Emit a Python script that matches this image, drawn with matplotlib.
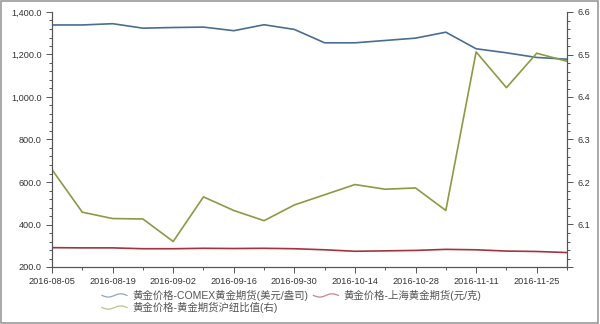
import numpy as np
import pandas as pd
import matplotlib
matplotlib.use("Agg")
import matplotlib.pyplot as plt
import matplotlib.dates as mdates
from matplotlib.ticker import FuncFormatter, MultipleLocator, AutoMinorLocator
from matplotlib.legend_handler import HandlerBase
from matplotlib.lines import Line2D

plt.rcParams['font.family'] = ['Liberation Sans', 'Noto Sans CJK SC', 'DejaVu Sans']

dates = pd.date_range("2016-08-05", "2016-12-02", freq="7D")
comex = [1339, 1339, 1345, 1324, 1327, 1329, 1312, 1340, 1318, 1255,
         1255, 1266, 1277, 1305, 1227, 1208, 1186, 1178]
shanghai = [291, 290, 290, 286, 286, 288, 287, 288, 286, 281,
            274, 276, 278, 283, 281, 275, 273, 268]
ratio = [6.229, 6.129, 6.114, 6.113, 6.060, 6.165, 6.133, 6.109, 6.146, 6.170,
         6.194, 6.183, 6.186, 6.133, 6.506, 6.422, 6.503, 6.484]
xticks = pd.date_range("2016-08-05", "2016-11-25", freq="14D")

names = ["黄金价格-COMEX黄金期货(美元/盎司)", "黄金价格-上海黄金期货(元/克)",
         "黄金价格-黄金期货沪纽比值(右)"]
c_blue, c_red, c_green = "#4a6d92", "#a3343f", "#8b9a44"


class WaveHandler(HandlerBase):
    def create_artists(self, legend, orig, xd, yd, w, h, fontsize, trans):
        t = np.linspace(0, 1, 30)
        xs = xd + t * w
        ys = yd + h / 2 - np.sin(t * 2 * np.pi) * h * 0.22
        ln = Line2D(xs, ys, color=orig.get_color(), lw=0.9, alpha=0.6, transform=trans)
        return [ln]


fig = plt.figure(figsize=(6, 3.24), dpi=100)
ax = fig.add_axes([52 / 600, 1 - 267 / 324, 515 / 600, 255 / 324])
ax2 = ax.twinx()

l1, = ax.plot(dates, comex, color=c_blue, lw=1.2)
l2, = ax.plot(dates, shanghai, color=c_red, lw=1.2)
l3, = ax2.plot(dates, ratio, color=c_green, lw=1.2)

ax.set_ylim(200, 1400)
ax2.set_ylim(6.0, 6.6)
ax.set_xlim(dates[0], dates[-1])

ax.yaxis.set_major_locator(MultipleLocator(200))
ax.yaxis.set_minor_locator(AutoMinorLocator(5))
ax.yaxis.set_major_formatter(FuncFormatter(lambda v, p: f"{v:,.1f}"))
ax2.yaxis.set_major_locator(MultipleLocator(0.1))
ax2.yaxis.set_minor_locator(AutoMinorLocator(5))
ax2.yaxis.set_major_formatter(FuncFormatter(lambda v, p: "" if v < 6.05 else f"{v:.1f}"))

ax.set_xticks(xticks)
ax.set_xticks(dates, minor=True)
ax.xaxis.set_major_formatter(mdates.DateFormatter("%Y-%m-%d"))

for a in (ax, ax2):
    for s in a.spines.values():
        s.set_color("#555555")
        s.set_linewidth(0.8)
    a.spines['top'].set_visible(False)
    a.tick_params(which='both', colors="#555555", labelcolor="#333333", labelsize=6.6, width=0.7)
    a.tick_params(which='major', length=4)
    a.tick_params(which='minor', length=2)

# column-major fill: col1 = COMEX, ratio ; col2 = Shanghai
fig.legend([l1, l3, l2], [names[0], names[2], names[1]], ncol=2,
           loc="upper left", bbox_to_anchor=(102 / 600, 1 - 290 / 324),
           frameon=False, fontsize=7.5, labelcolor="#555555",
           handler_map={Line2D: WaveHandler()}, handlelength=2.4,
           handletextpad=0.5, columnspacing=0.5, labelspacing=0.1,
           borderpad=0, borderaxespad=0)

fig.patches.append(plt.Rectangle((0.002, 0.004), 0.994, 0.994, transform=fig.transFigure,
                                 fill=False, edgecolor="#999999", lw=1.2))

fig.savefig("out.png", dpi=100)
